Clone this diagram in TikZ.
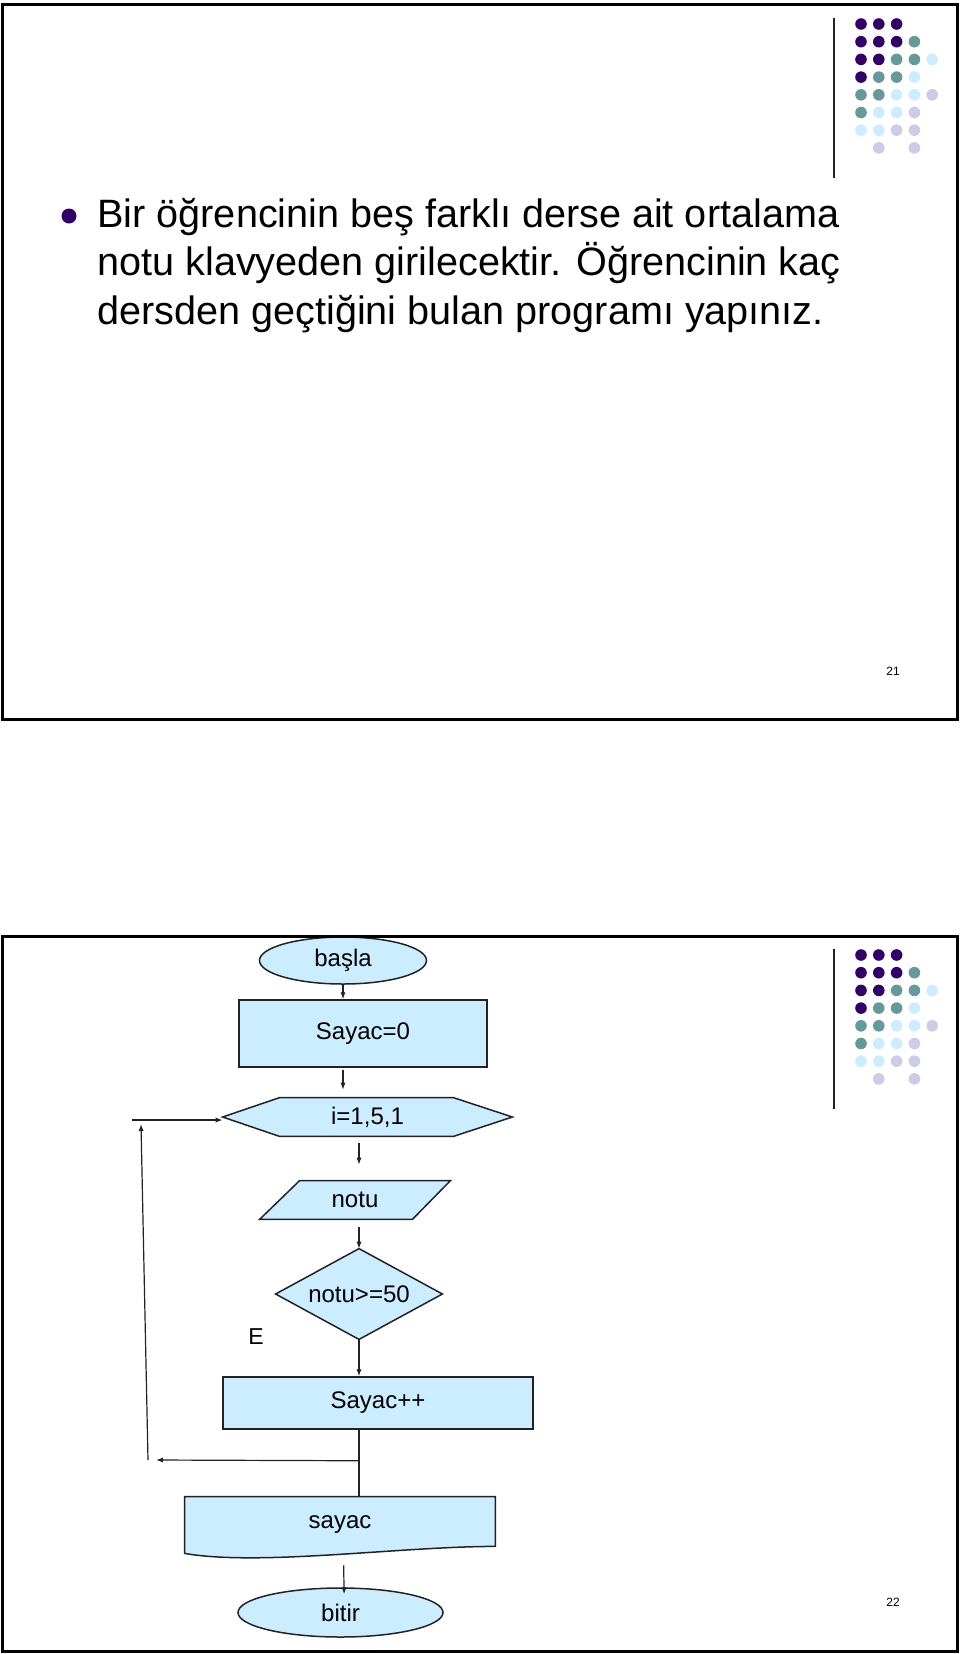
\documentclass[tikz,border=0pt]{standalone}
\usepackage{fontspec}
\setmainfont{Liberation Sans}
\usetikzlibrary{shapes.geometric,arrows.meta,backgrounds,calc}
\definecolor{dpur}{HTML}{330066}
\definecolor{tealc}{HTML}{669999}
\definecolor{lblue}{HTML}{CCECFF}
\definecolor{lav}{HTML}{CCCCE6}
\definecolor{fc}{HTML}{CCECFF}
\definecolor{lnc}{HTML}{222222}
\begin{document}
\begin{tikzpicture}[x=0.5pt,y=-0.5pt,
  frame/.style={draw=black,line width=1.5pt},
  box/.style={draw=lnc,line width=0.75pt,fill=fc,inner sep=0pt,font=\fontsize{12pt}{14pt}\selectfont},
  ghost/.style={rectangle,inner sep=0pt,font=\fontsize{12pt}{14pt}\selectfont},
  shp/.style={draw=lnc,line width=0.75pt,fill=fc},
  arr/.style={draw=lnc,line width=0.6pt,-{Latex[length=3.5pt,width=2.6pt]}},
  plain/.style={draw=lnc,line width=0.6pt},
  title/.style={anchor=base west,inner sep=0pt,font=\fontsize{19.8pt}{24pt}\selectfont},
  pnum/.style={inner sep=0pt,font=\fontsize{6pt}{7pt}\selectfont},
  deco/.pic={
    \draw[lnc,line width=1pt] (834,18) -- (834,178);
    \foreach \c/\r/\k in {1/1/dpur,2/1/dpur,3/1/dpur,
      1/2/dpur,2/2/dpur,3/2/dpur,4/2/tealc,
      1/3/dpur,2/3/dpur,3/3/tealc,4/3/tealc,5/3/lblue,
      1/4/dpur,2/4/tealc,3/4/tealc,4/4/lblue,
      1/5/tealc,2/5/tealc,3/5/lblue,4/5/lblue,5/5/lav,
      1/6/tealc,2/6/lblue,3/6/lblue,4/6/lav,
      1/7/lblue,2/7/lblue,3/7/lav,4/7/lav,
      2/8/lav,4/8/lav}
      \fill[\k] ({861+(\c-1)*17.8},{24+(\r-1)*17.7}) circle[radius=2.9pt];
  }
]
\useasboundingbox (0,0) rectangle (960,1654);
\begin{scope}[on background layer]
  \fill[white] (0,0) rectangle (960,1654);
\end{scope}

% ---------- slide 1 ----------
\pic at (0,0) {deco};
\fill[dpur] (69,216) circle[radius=3.75pt];
\node[title] (t1) at (97,227) {Bir öğrencinin beş farklı derse ait ortalama};
\node[title] (t2) at (97,275.5) {notu klavyeden girilecektir. Öğrencinin kaç};
\node[title] (t3) at (97,324) {dersden geçtiğini bulan programı yapınız.};
\node[pnum] (n21) at (893,671) {21};

% ---------- slide 2 ----------
\pic at (0,931) {deco};

\node[box,ellipse,minimum width=83.5pt,minimum height=23.5pt] (start) at (343,960.5) {başla};
\node[box,minimum width=124pt,minimum height=33.5pt] (s0) at (363,1033.5) {Sayac=0};
\node[ghost,minimum width=144.5pt,minimum height=19pt] (hex) at (367.5,1117) {i=1,5,1};
\node[ghost,minimum width=95pt,minimum height=19pt] (notu) at (355,1200) {notu};
\node[ghost,minimum width=83pt,minimum height=45pt] (dia) at (359,1294) {notu>=50};
\node[box,minimum width=155pt,minimum height=26pt] (sp) at (378,1403) {Sayac++};
\node[ghost,minimum width=155pt,minimum height=28pt] (doc) at (340,1525) {sayac};
\node[box,ellipse,minimum width=102.5pt,minimum height=24.5pt] (end) at (340.5,1612.5) {bitir};
\node[inner sep=0pt,font=\fontsize{11.5pt}{13pt}\selectfont] (E) at (256,1337) {E};
\node[pnum] (n22) at (893,1602) {22};

\begin{scope}[on background layer]
  \draw[shp] (hex.west) -- ($(hex.north west)+(57,0)$) -- ($(hex.north east)+(-59,0)$)
     -- (hex.east) -- ($(hex.south east)+(-59,0)$) -- ($(hex.south west)+(57,0)$) -- cycle;
  \draw[shp] ($(notu.north west)+(40,0)$) -- (notu.north east)
     -- ($(notu.south east)+(-38,0)$) -- (notu.south west) -- cycle;
  \draw[shp] (dia.north) -- (dia.east) -- (dia.south) -- (dia.west) -- cycle;
  \draw[shp] (doc.north west) -- (doc.north east) -- ($(doc.south east)+(0,-7)$)
     .. controls ($(doc.south east)+(-95,-7)$) and ($(doc.south west)+(75,13)$) .. (doc.south west) -- cycle;
\end{scope}

% connectors
\draw[arr] (start.south) -- (start.south |- s0.north);
\draw[arr,shorten <=1pt,shorten >=4pt] (s0.south -| start.south) -- (hex.north -| start.south);
\draw[arr,shorten <=3.5pt,shorten >=8pt] (hex.south -| dia.north) -- (notu.north -| dia.north);
\draw[arr,shorten <=4pt] (notu.south -| dia.north) -- (dia.north);
\draw[arr] (dia.south) -- (sp.north -| dia.south);
\draw[plain] (sp.south -| dia.south) -- (doc.north -| dia.south);
\coordinate (j) at ($(sp.south -| dia.south)+(0,31)$);
\coordinate (lb) at (156,1460);
\coordinate (lv1) at (148,1460);
\coordinate (lv2) at (141,1124);
\coordinate (la) at (132,1120);
\draw[arr] (j) -- (lb);
\draw[arr] (lv1) -- (lv2);
\draw[arr] (la) -- (la -| hex.west);
\draw[arr,shorten <=6pt,shorten >=-3.5pt] ([xshift=1.75pt]doc.south) -- ([xshift=1.75pt]end.north);

% frames
\draw[frame] (2,4) rectangle (957,719);
\draw[frame] (2,936) rectangle (957,1651);
\end{tikzpicture}
\end{document}
